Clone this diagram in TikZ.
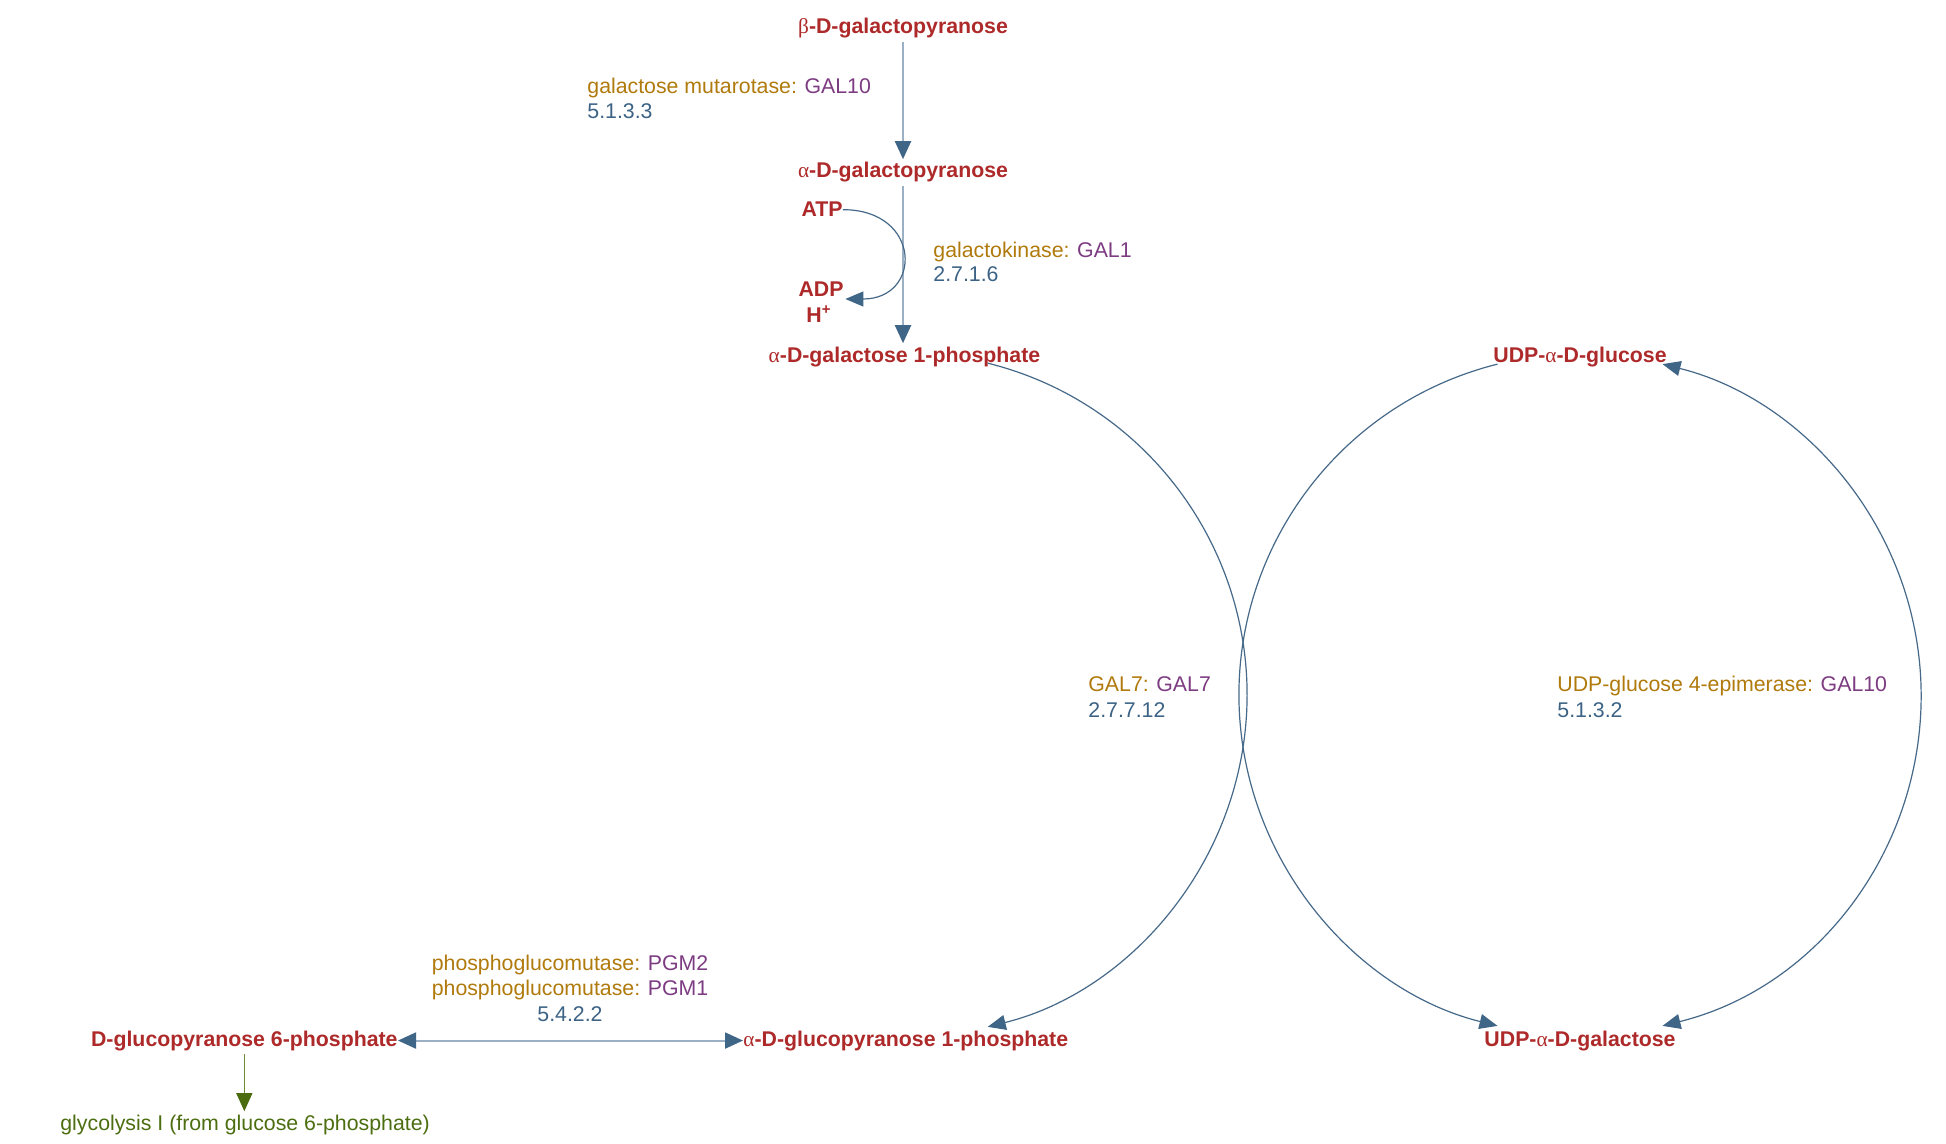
\documentclass[tikz,border=0pt]{standalone}
\usepackage{fontspec}
\setmainfont{Liberation Sans}
\newfontfamily\grkfont{Liberation Serif}
\usetikzlibrary{arrows.meta,calc}
\definecolor{cpd}{HTML}{AE2A2A}
\definecolor{enz}{HTML}{B07A0C}
\definecolor{gene}{HTML}{7D3C82}
\definecolor{ecn}{HTML}{3C6385}
\definecolor{pw}{HTML}{4C6E11}
\definecolor{linelight}{HTML}{9BB0C4}
\definecolor{arrdark}{HTML}{3F6587}
\definecolor{curvec}{HTML}{46698A}
\definecolor{pwline}{HTML}{6A8A36}
\definecolor{pwhead}{HTML}{4A6B0E}
\newcommand{\galpha}{{\grkfont\mdseries α}}
\newcommand{\gbeta}{{\grkfont\mdseries β}}
\newcommand{\enzt}[1]{\textcolor{enz}{#1}}
\newcommand{\genet}[1]{\textcolor{gene}{#1}}
\newcommand{\ect}[1]{\textcolor{ecn}{#1}}
\newcommand{\sepgap}{\hspace{3.8pt}}
\tikzset{
  cpdn/.style={font=\fontsize{10.65pt}{12.8pt}\selectfont\bfseries, text=cpd, inner xsep=0pt, inner ysep=1.5pt, anchor=base},
  lbl/.style={font=\fontsize{10.65pt}{12.8pt}\selectfont, inner sep=0pt, anchor=base west},
  mainarrow/.style={draw=linelight, line width=1pt, -{Triangle[length=9pt,width=8pt,color=arrdark]}},
  bidir/.style={draw=linelight, line width=1pt, {Triangle[length=9pt,width=8pt,color=arrdark]}-{Triangle[length=9pt,width=8pt,color=arrdark]}},
  curvearrow/.style={draw=curvec, line width=0.6pt, -{Triangle[length=9pt,width=7.5pt,color=arrdark]}},
  curvebi/.style={draw=curvec, line width=0.6pt, {Triangle[length=9pt,width=7.5pt,color=arrdark]}-{Triangle[length=9pt,width=7.5pt,color=arrdark]}},
  pwarrow/.style={draw=pwline, line width=0.6pt, -{Triangle[length=9pt,width=8pt,color=pwhead]}}
}
\begin{document}
\begin{tikzpicture}[x=0.5pt,y=0.5pt]
\fill[white] (0,0) rectangle (1946,-1144);
\useasboundingbox (0,0) rectangle (1946,-1144);
% compounds
\node[cpdn] (beta) at (903,-34) {\gbeta-D-galactopyranose};
\node[cpdn] (alpha) at (903,-178) {\galpha-D-galactopyranose};
\node[cpdn] (galp) at (904.5,-362) {\galpha-D-galactose 1-phosphate};
\node[cpdn] (atp) at (822,-217) {ATP};
\node[cpdn] (adp) at (821,-297) {ADP};
\node[cpdn] (hplus) at (819,-322) {H\textsuperscript{+}};
\node[cpdn] (udpglc) at (1580,-362) {UDP-\galpha-D-glucose};
\node[cpdn] (udpgal) at (1580,-1046) {UDP-\galpha-D-galactose};
\node[cpdn, anchor=base west] (g1p) at (743,-1046) {\galpha-D-glucopyranose 1-phosphate};
\node[cpdn, anchor=base east] (g6p) at (398,-1046) {D-glucopyranose 6-phosphate};
\node[lbl, text=pw, inner ysep=1.5pt] (glyco) at (60,-1130) {glycolysis I (from glucose 6-phosphate)};
% enzyme labels
\node[lbl] (mutl) at (587,-94) {\enzt{galactose mutarotase:}\sepgap\genet{GAL10}};
\node[lbl] (mutec) at (587,-119) {\ect{5.1.3.3}};
\node[lbl] (gkl) at (933,-258) {\enzt{galactokinase:}\sepgap\genet{GAL1}};
\node[lbl] (gkec) at (933,-282) {\ect{2.7.1.6}};
\node[lbl] (g7l) at (1088,-691) {\enzt{GAL7:}\sepgap\genet{GAL7}};
\node[lbl] (g7ec) at (1088,-717) {\ect{2.7.7.12}};
\node[lbl] (epl) at (1557,-691) {\enzt{UDP-glucose 4-epimerase:}\sepgap\genet{GAL10}};
\node[lbl] (epec) at (1557,-717) {\ect{5.1.3.2}};
\node[lbl, anchor=base] (pgm2) at (570,-970) {\enzt{phosphoglucomutase:}\sepgap\genet{PGM2}};
\node[lbl, anchor=base] (pgm1) at (570,-995.5) {\enzt{phosphoglucomutase:}\sepgap\genet{PGM1}};
\node[lbl, anchor=base] (pgmec) at (570,-1021) {\ect{5.4.2.2}};
% straight reactions
\draw[mainarrow] (beta.south) -- (alpha.north);
\draw[mainarrow] (alpha.south) -- (alpha.south |- galp.north);
\coordinate (adpend) at ($(adp.base east)+(1.5,-2)$);
\draw[curvearrow] (atp.east) .. controls +(79,0) and +(77,0) .. (adpend);
\draw[bidir] (g6p.east) -- (g6p.east -| g1p.west);
\draw[pwarrow] (g6p.south) -- (g6p.south |- glyco.north);
% circular reactions
\coordinate (Lc) at (905,-695);
\coordinate (Rc) at (1580,-695);
\coordinate (l1) at ($(Lc)+(76:171pt)$);
\draw[curvearrow] (l1) arc[start angle=76, end angle=-76, radius=171pt];
\coordinate (r1) at ($(Rc)+(104:170.5pt)$);
\draw[curvearrow] (r1) arc[start angle=104, end angle=256, radius=170.5pt];
\coordinate (r2) at ($(Rc)+(-76:170.5pt)$);
\draw[curvebi] (r2) arc[start angle=-76, end angle=76, radius=170.5pt];
\end{tikzpicture}
\end{document}
